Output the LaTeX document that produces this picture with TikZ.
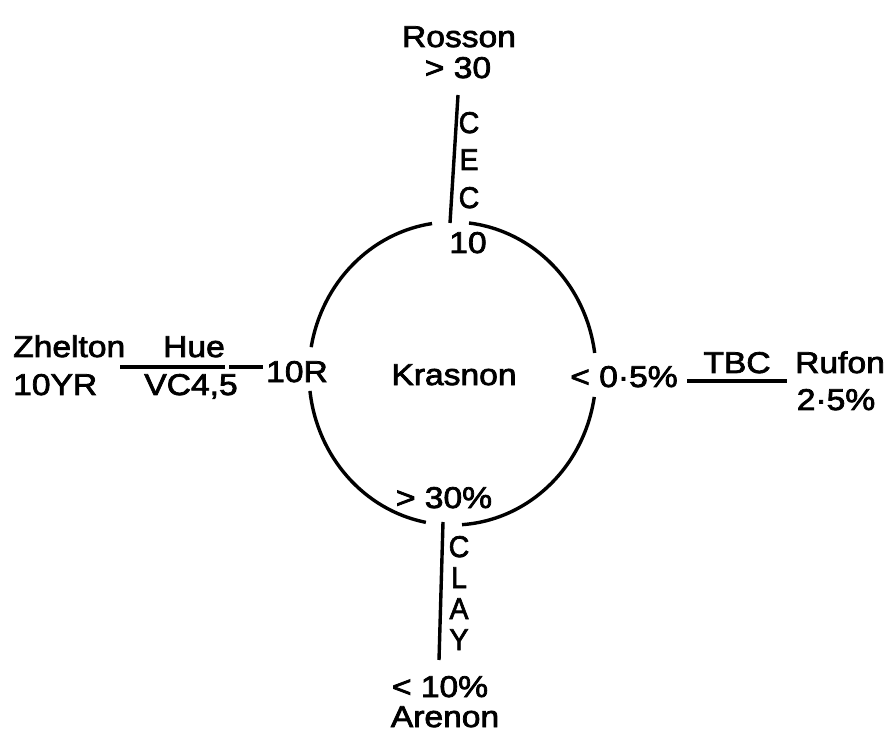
\documentclass[tikz,border=0pt]{standalone}
\usepackage{fontspec}
\setmainfont{Liberation Sans}[FakeStretch=1.12,FakeBold=2.5]
\usetikzlibrary{calc}
\begin{document}
\begin{tikzpicture}[x=1pt,y=1pt,
  lab/.style={inner sep=0pt,anchor=base,font=\fontsize{30}{36}\selectfont},
  vlet/.style={lab,xscale=0.85},
  rule/.style={line width=3.4pt}]
\useasboundingbox (0,0) rectangle (888,737);
% texts
\node[lab] (rosson) at (459,690) {Rosson};
\node[lab] (gt30) at (458,659) {> 30};
\node[vlet] (c1) at (469,604) {C};
\node[vlet] (e1) at (469,567) {E};
\node[vlet] (c2) at (469,529) {C};
\node[lab] (ten) at (468,484) {10};
\node[lab] (kras) at (454,352) {Krasnon};
\node[lab] (tenr) at (297,355) {10R};
\node[lab] (lt05) at (624,350) {< 0·5\%};
\node[lab] (tbc) at (737,364) {TBC};
\node[lab] (rufon) at (840,364) {Rufon};
\node[lab] (r25) at (836,327) {2·5\%};
\node[lab,anchor=base west] (zhel) at (13,380) {Zhelton};
\node[lab,anchor=base west] (yr) at (13,342) {10YR};
\node[lab] (hue) at (194,380) {Hue};
\node[lab] (vc) at (191,342) {VC4,5};
\node[lab] (gt30p) at (444,229) {> 30\%};
\node[vlet] (cl) at (459,180) {C};
\node[vlet] (ll) at (459,149) {L};
\node[vlet] (al) at (459,118) {A};
\node[vlet] (yl) at (459,87) {Y};
\node[lab] (lt10) at (440,40) {< 10\%};
\node[lab] (aren) at (445,10) {Arenon};
% lines
\coordinate (t1) at (458,642); \coordinate (t2) at (450,514);
\draw[rule] (t1) -- (t2);
\coordinate (b1) at (443,215); \coordinate (b2) at (439,77);
\draw[rule] (b1) -- (b2);
\coordinate (l1) at (120,370); \coordinate (l2) at (225,370);
\coordinate (l3) at (229,370); \coordinate (l4) at (263,370);
\draw[rule] (l1) -- (l2);
\draw[rule] (l3) -- (l4);
\coordinate (r1) at (687,356); \coordinate (r2) at (787,356);
\draw[rule] (r1) -- (r2);
% circle
\coordinate (ctr) at (452.5,363.5);
\draw[rule] ($(ctr)+(7.8:143.5 and 151.5)$) arc[start angle=7.8,end angle=83.4,x radius=143.5,y radius=151.5];
\draw[rule] ($(ctr)+(98.2:143.5 and 151.5)$) arc[start angle=98.2,end angle=170,x radius=143.5,y radius=151.5];
\draw[rule] ($(ctr)+(186.6:143.5 and 151.5)$) arc[start angle=186.6,end angle=259.3,x radius=143.5,y radius=151.5];
\draw[rule] ($(ctr)+(273.8:143.5 and 151.5)$) arc[start angle=273.8,end angle=351.1,x radius=143.5,y radius=151.5];
\end{tikzpicture}
\end{document}
